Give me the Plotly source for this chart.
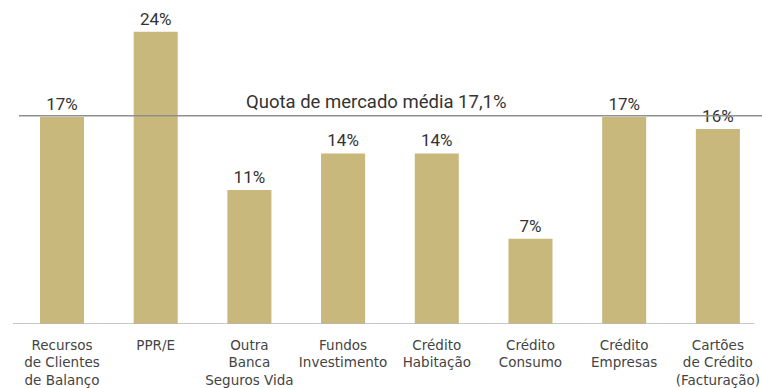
import plotly.graph_objects as go

# Market share by product line (%)
categories = [
    "Recursos<br>de Clientes<br>de Balanço",
    "PPR/E",
    "Outra<br>Banca<br>Seguros Vida",
    "Fundos<br>Investimento",
    "Crédito<br>Habitação",
    "Crédito<br>Consumo",
    "Crédito<br>Empresas",
    "Cartões<br>de Crédito<br>(Facturação)",
]
shares = [17, 24, 11, 14, 14, 7, 17, 16]
average_share = 17.1

bar_color = "#C9B87C"
text_color = "#333333"
label_font = "Roboto, DejaVu Sans, sans-serif"
tick_font = "DejaVu Sans, Verdana, sans-serif"

x_pos = list(range(len(categories)))

fig = go.Figure()
fig.add_trace(go.Bar(
    x=x_pos,
    y=shares,
    width=0.47,
    marker=dict(color=bar_color, line=dict(width=0)),
    text=[f"{v:.0f}%" for v in shares],
    textposition="outside",
    textfont=dict(size=17, color=text_color, family=label_font),
    cliponaxis=False,
    hoverinfo="skip",
))

# average market share reference line
fig.add_shape(type="line", xref="paper", yref="y",
              x0=0.008, x1=1.0, y0=average_share, y1=average_share,
              line=dict(color="#8f8f8f", width=1.5))
# baseline
fig.add_shape(type="line", xref="paper", yref="y",
              x0=0.0, x1=0.99, y0=0, y1=0,
              line=dict(color="#b5b5b5", width=1.5))

avg_text = f"{average_share:.1f}".replace(".", ",")
fig.add_annotation(
    x=3.35, y=average_share, xref="x", yref="y",
    text=f"Quota de mercado média {avg_text}%",
    showarrow=False, yanchor="bottom", yshift=1,
    font=dict(size=18.5, color=text_color, family=label_font),
)

fig.update_layout(
    width=762, height=388,
    margin=dict(l=13, r=0, t=0, b=62),
    paper_bgcolor="white", plot_bgcolor="white",
    showlegend=False,
    xaxis=dict(
        range=[-0.523, 7.471],
        tickmode="array", tickvals=x_pos, ticktext=categories,
        showgrid=False, zeroline=False, showline=False, ticks="",
        ticklabelstandoff=11,
        tickfont=dict(size=13.5, color="#444444", family=tick_font),
    ),
    yaxis=dict(
        range=[0, 26.6],
        showgrid=False, zeroline=False, showline=False,
        showticklabels=False, ticks="",
    ),
)

fig.write_html("out.html")
